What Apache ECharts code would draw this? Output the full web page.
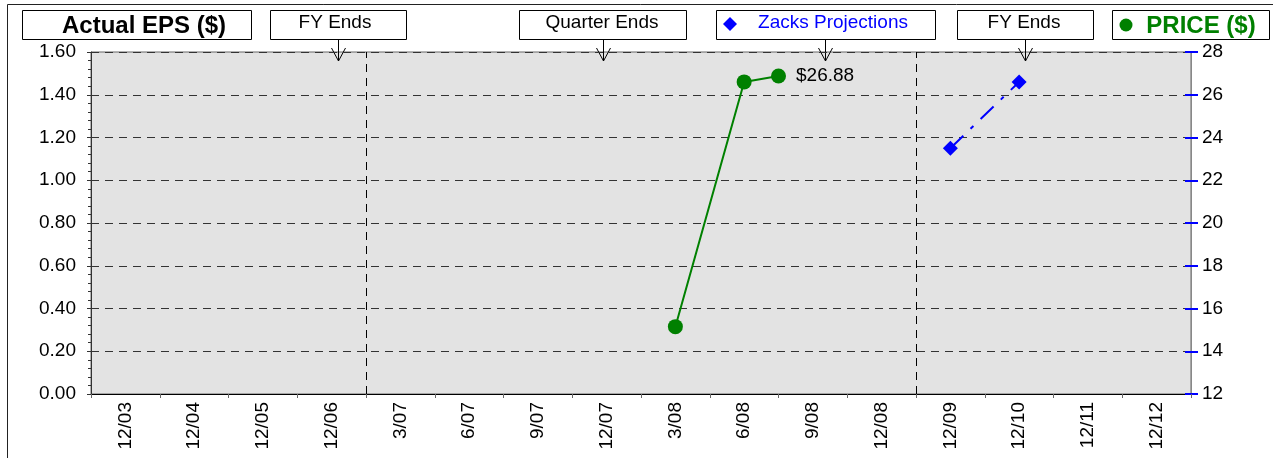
<!DOCTYPE html>
<html>
<head>
<meta charset="utf-8">
<script src="https://cdn.jsdelivr.net/npm/echarts@6/dist/echarts.min.js"></script>
<style>
  html, body { margin: 0; padding: 0; background: #fff; }
  #chart { width: 1273px; height: 458px; }
</style>
</head>
<body>
<div id="chart"></div>
<script>
// x axis categories
var categories = ["12/03", "12/04", "12/05", "12/06", "3/07", "6/07", "9/07", "12/07",
                  "3/08", "6/08", "9/08", "12/08", "12/09", "12/10", "12/11", "12/12"];
// positions along the axis in category units (0 = left edge)
var priceX = [8.5, 9.5, 10.0];
var priceVals = [15.15, 26.6, 26.88];
var projX = [12.5, 13.5];
var projEps = [1.15, 1.46];
// fiscal year divider positions
var fyLines = [4, 12];

var FONT = "Liberation Sans, Arial, sans-serif";

var chart = echarts.init(document.getElementById("chart"));

// top header boxes
function box(x, y, w, h) {
  return {
    type: "rect",
    shape: { x: x + 0.5, y: y + 0.5, width: w, height: h },
    style: { fill: "#fff", stroke: "#000", lineWidth: 1 }
  };
}
function label(x, y, text, size, color, bold) {
  return {
    type: "text",
    x: x, y: y,
    style: {
      text: text, fill: color, font: (bold ? "bold " : "") + size + "px " + FONT,
      align: "center", verticalAlign: "middle"
    }
  };
}
function arrow(x) {
  return {
    type: "polyline",
    shape: { points: [[x - 7, 48], [x, 61], [x + 7, 48]] },
    style: { stroke: "#000", lineWidth: 1, fill: null }
  };
}
function stem(x) {
  return {
    type: "line",
    shape: { x1: x, y1: 40, x2: x, y2: 61 },
    style: { stroke: "#000", lineWidth: 1 }
  };
}

var graphics = [
  // outer frame
  { type: "line", shape: { x1: 7.5, y1: 4.5, x2: 1273, y2: 4.5 }, style: { stroke: "#222", lineWidth: 1 } },
  { type: "line", shape: { x1: 7.5, y1: 4.5, x2: 7.5, y2: 458 }, style: { stroke: "#222", lineWidth: 1 } },

  box(22, 10, 229, 29), label(144, 26, "Actual EPS ($)", 24, "#000", true),
  box(270, 10, 136, 29), label(335, 23, "FY Ends", 19, "#000", false),
  box(519, 10, 167, 29), label(602, 23, "Quarter Ends", 19, "#000", false),
  box(716, 10, 219, 29),
  { type: "polygon", shape: { points: [[730, 17], [737, 24], [730, 31], [723, 24]] }, style: { fill: "#0000ff" } },
  label(833, 23, "Zacks Projections", 19, "#0000ff", false),
  box(957, 10, 136, 29), label(1024, 23, "FY Ends", 19, "#000", false),
  box(1112, 10, 157, 29),
  { type: "circle", shape: { cx: 1126, cy: 25, r: 6.5 }, style: { fill: "#008000" } },
  label(1201, 26, "PRICE ($)", 24, "#008000", true),

  stem(338.5), arrow(338.5),
  stem(603.5), arrow(603.5),
  stem(825.5), arrow(825.5),
  stem(1025.5), arrow(1025.5)
];

var option = {
  animation: false,
  textStyle: { fontFamily: FONT },
  grid: {
    left: 91, right: 82, top: 52, bottom: 64,
    show: true, backgroundColor: "#e3e3e3", borderColor: "#666", borderWidth: 1
  },
  xAxis: [
    {
      type: "category",
      data: categories,
      boundaryGap: true,
      axisLine: { lineStyle: { color: "#000", width: 1 } },
      axisTick: { show: true, length: 4, lineStyle: { color: "#666" } },
      axisLabel: { rotate: 90, fontSize: 19, color: "#000", margin: 8, interval: 0 },
      splitLine: { show: false }
    },
    {
      type: "value", min: 0, max: categories.length, show: false,
      splitLine: { show: false }
    }
  ],
  yAxis: [
    {
      type: "value", position: "left", min: 0, max: 1.6, interval: 0.2,
      axisLine: { show: true, lineStyle: { color: "#333" } },
      axisTick: { show: true, length: 4, lineStyle: { color: "#333" } },
      minorTick: { show: true, splitNumber: 5, length: 3, lineStyle: { color: "#333" } },
      axisLabel: { fontSize: 19, color: "#000", margin: 15,
        formatter: function (v) { return v.toFixed(2); } },
      splitLine: { show: true, lineStyle: { color: "#333", type: [8, 6], width: 1 } }
    },
    {
      type: "value", position: "right", min: 12, max: 28, interval: 2,
      axisLine: { show: true, lineStyle: { color: "#888" } },
      axisTick: { show: true, length: 7, lineStyle: { color: "#0000ff", width: 2 } },
      axisLabel: { fontSize: 19, color: "#000", margin: 11 },
      splitLine: { show: false }
    },
    {
      // inner half of the blue price ticks
      type: "value", position: "right", min: 12, max: 28, interval: 2,
      axisLine: { show: false },
      axisTick: { show: true, inside: true, length: 6, lineStyle: { color: "#0000ff", width: 2 } },
      axisLabel: { show: false },
      splitLine: { show: false }
    }
  ],
  series: [
    {
      name: "Price",
      type: "line",
      xAxisIndex: 1,
      yAxisIndex: 1,
      data: priceX.map(function (x, i) { return [x, priceVals[i]]; }),
      symbol: "circle",
      symbolSize: 15,
      itemStyle: { color: "#008000" },
      lineStyle: { color: "#008000", width: 2 },
      label: {
        show: true, position: "right", distance: 10, fontSize: 19, color: "#000",
        formatter: function (p) {
          return p.dataIndex === priceVals.length - 1 ? "$" + p.value[1].toFixed(2) : "";
        }
      },
      markLine: {
        silent: true,
        symbol: "none",
        label: { show: false },
        lineStyle: { color: "#000", type: [8, 6], width: 1 },
        data: fyLines.map(function (x) { return { xAxis: x }; })
      },
      z: 3
    },
    {
      name: "Zacks Projections",
      type: "line",
      xAxisIndex: 1,
      yAxisIndex: 0,
      data: projX.map(function (x, i) { return [x, projEps[i]]; }),
      symbol: "diamond",
      symbolSize: 15,
      itemStyle: { color: "#0000ff" },
      lineStyle: { color: "#0000ff", width: 2, type: [18, 10, 4, 10] },
      z: 3
    }
  ],
  graphic: graphics
};

chart.setOption(option);
</script>
</body>
</html>
